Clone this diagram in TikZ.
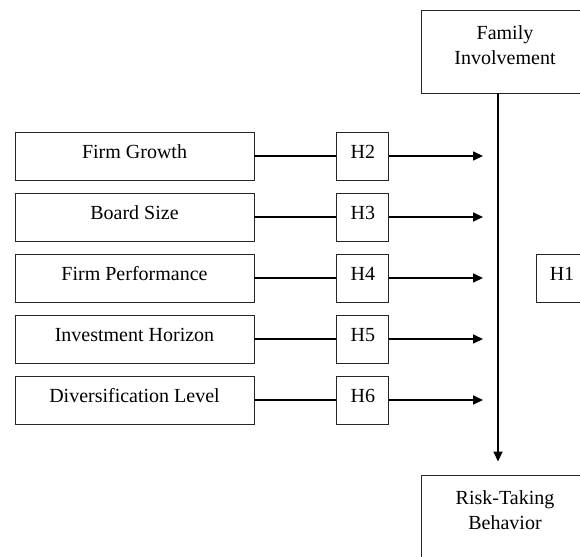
\documentclass[tikz,border=0pt]{standalone}
\usepackage{fontspec}
\setmainfont{Liberation Serif}
\usetikzlibrary{arrows.meta,positioning}

\begin{document}
\begin{tikzpicture}[x=1pt, y=-1pt, node distance=82pt,
    every node/.style={font=\fontsize{20}{25}\selectfont},
    factor/.style={draw=black!85, line width=0.9pt, minimum width=239pt, minimum height=48pt, inner sep=0pt, text height=14pt, text depth=10pt},
    hyp/.style={draw=black!85, line width=0.9pt, minimum width=52pt, minimum height=48pt, inner sep=0pt, text height=14pt, text depth=10pt},
    outcome/.style={draw=black!85, line width=0.9pt, align=center, minimum width=168pt, minimum height=83pt, inner sep=0pt, text depth=12.6pt},
    link/.style={line width=1.6pt},
    effect/.style={line width=1.6pt, -{Triangle[length=10pt,width=9pt]}}]
    \useasboundingbox (0,0) rectangle (580,556);
    \clip (0,0) rectangle (580,556);

    % outcome boxes
    \node[outcome] (fam) at (505,51.5) {Family\\Involvement};
    \node[outcome] (risk) at (505,516.5) {Risk-Taking\\Behavior};
    \node[hyp] (h1) at (562,278) {H1};
    \draw[effect] ([xshift=-7pt]fam.south) -- ([xshift=-7pt,yshift=13pt]risk.north);

    % antecedents
    \node[factor] (growth) at (134.5,156) {Firm Growth};
    \node[factor] (board) at (134.5,217) {Board Size};
    \node[factor] (perf) at (134.5,278) {Firm Performance};
    \node[factor] (horizon) at (134.5,339) {Investment Horizon};
    \node[factor] (divers) at (134.5,400) {Diversification Level};

    \node[hyp, right=of growth] (h2) {H2};
    \node[hyp, right=of board] (h3) {H3};
    \node[hyp, right=of perf] (h4) {H4};
    \node[hyp, right=of horizon] (h5) {H5};
    \node[hyp, right=of divers] (h6) {H6};

    \coordinate (t2) at (483,156);
    \coordinate (t3) at (483,217);
    \coordinate (t4) at (483,278);
    \coordinate (t5) at (483,339);
    \coordinate (t6) at (483,400);

    \draw[link] (growth) -- (h2);
    \draw[link] (board) -- (h3);
    \draw[link] (perf) -- (h4);
    \draw[link] (horizon) -- (h5);
    \draw[link] (divers) -- (h6);
    \draw[effect] (h2) -- (t2);
    \draw[effect] (h3) -- (t3);
    \draw[effect] (h4) -- (t4);
    \draw[effect] (h5) -- (t5);
    \draw[effect] (h6) -- (t6);
\end{tikzpicture}
\end{document}
